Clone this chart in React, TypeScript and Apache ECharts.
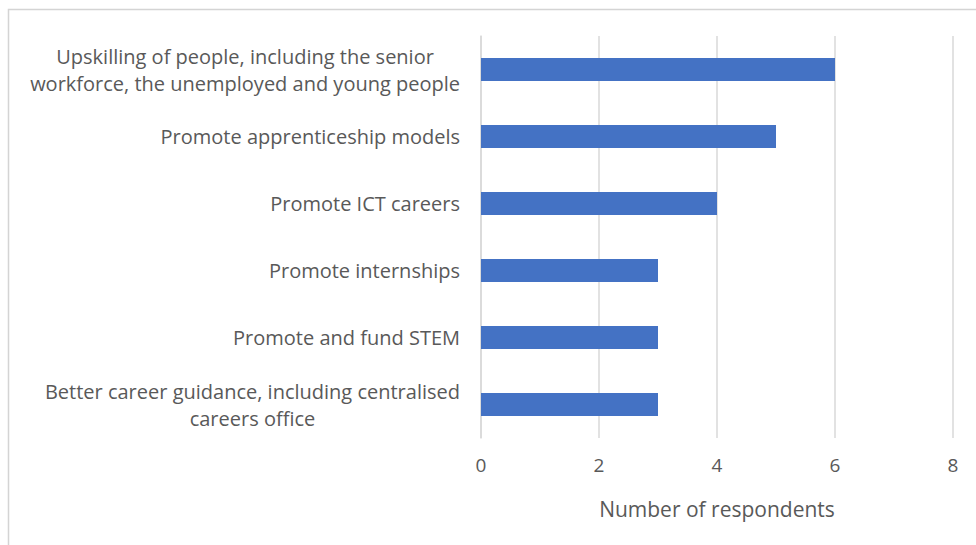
import React, { useEffect, useRef } from "react";
import * as echarts from "echarts";

const categories: string[] = [
  "Better career guidance, including centralised\ncareers office",
  "Promote and fund STEM",
  "Promote internships",
  "Promote ICT careers",
  "Promote apprenticeship models",
  "Upskilling of people, including the senior\nworkforce, the unemployed and young people",
];
const values: number[] = [3, 3, 3, 4, 5, 6];
const axisTitle = "Number of respondents";

const FONT = "'Open Sans', sans-serif";
const TEXT = "#595959";
const GRID = "#d9d9d9";

export default function App() {
  const ref = useRef<HTMLDivElement>(null);
  useEffect(() => {
    if (!ref.current) return;
    const chart = echarts.init(ref.current, undefined, { renderer: "svg" });
    chart.setOption({
      animation: false,
      backgroundColor: "#ffffff",
      textStyle: { fontFamily: FONT },
      graphic: [
        {
          type: "rect",
          shape: { x: 8.5, y: 9.5, width: 1100, height: 700 },
          style: { fill: "none", stroke: "#d4d4d4", lineWidth: 1.5 },
          silent: true,
        },
      ],
      grid: { left: 481, right: 23, top: 36, bottom: 107, containLabel: false },
      xAxis: {
        type: "value",
        min: 0,
        max: 8,
        interval: 2,
        name: axisTitle,
        nameLocation: "middle",
        nameGap: 60,
        nameTextStyle: { color: TEXT, fontSize: 21, fontFamily: FONT },
        axisLine: { show: false },
        axisTick: { show: false },
        axisLabel: { color: TEXT, fontSize: 19, fontFamily: FONT, margin: 17 },
        splitLine: { show: true, lineStyle: { color: GRID, width: 1.5 } },
      },
      yAxis: {
        type: "category",
        data: categories,
        axisLine: { show: true, lineStyle: { color: GRID, width: 1.5 } },
        axisTick: { show: false },
        axisLabel: {
          margin: 21,
          color: TEXT,
          fontSize: 20,
          fontFamily: FONT,
          lineHeight: 27,
          formatter: (v: string) =>
            v
              .split("\n")
              .map((l) => `{c|${l}}`)
              .join("\n"),
          rich: {
            c: { align: "center", color: TEXT, fontSize: 20, fontFamily: FONT, lineHeight: 27 },
          },
        },
      },
      series: [
        {
          type: "bar",
          data: values,
          barWidth: "34%",
          itemStyle: { color: "#4472C4" },
        },
      ],
    });
    return () => chart.dispose();
  }, []);
  return (
    <div
      ref={ref}
      style={{ position: "fixed", left: 0, top: 0, width: 976, height: 545 }}
    />
  );
}
